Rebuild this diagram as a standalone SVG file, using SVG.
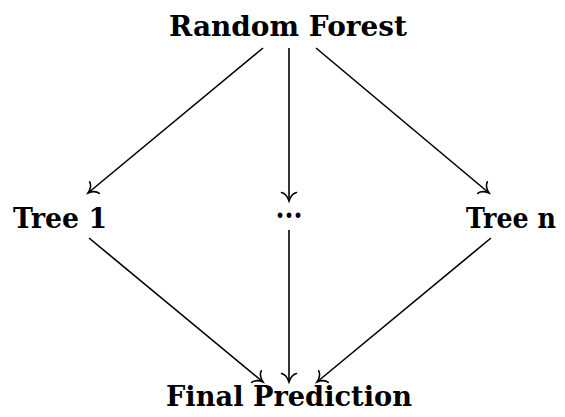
<svg xmlns="http://www.w3.org/2000/svg" width="565" height="417" viewBox="0 0 565 417">
<defs>
<style>
.lbl{font-family:"DejaVu Serif","Liberation Serif",serif;font-weight:bold;font-size:27px;fill:#000;text-anchor:middle}
.edge{stroke:#000;stroke-width:1.6;fill:none;marker-end:url(#to)}
</style>
<marker id="to" markerUnits="userSpaceOnUse" markerWidth="24" markerHeight="24" viewBox="-12 -12 24 24" refX="0" refY="0" orient="auto" overflow="visible">
<path d="M-8.5,-7.5 C-7.5,-3.5 -2.5,-0.8 0,0 C-2.5,0.8 -7.5,3.5 -8.5,7.5" fill="none" stroke="#000" stroke-width="1.6" stroke-linecap="round"/>
</marker>
</defs>
<g id="connectors">
<line class="edge" x1="263" y1="48" x2="88" y2="193"/>
<line class="edge" x1="289" y1="48" x2="289" y2="201"/>
<line class="edge" x1="316" y1="48" x2="489" y2="193"/>
<line class="edge" x1="89" y1="238" x2="263" y2="382"/>
<line class="edge" x1="289" y1="230" x2="289" y2="382"/>
<line class="edge" x1="491" y1="238" x2="317" y2="382"/>
</g>
<g id="random-forest"><text class="lbl" x="288" y="36" textLength="238" lengthAdjust="spacingAndGlyphs">Random Forest</text></g>
<g id="tree-1"><text class="lbl" x="60" y="228" textLength="94" lengthAdjust="spacingAndGlyphs">Tree 1</text></g>
<g id="dots"><text class="lbl" x="289" y="226" style="font-size:30px" textLength="27" lengthAdjust="spacingAndGlyphs">···</text></g>
<g id="tree-n"><text class="lbl" x="511" y="228" textLength="90" lengthAdjust="spacingAndGlyphs">Tree n</text></g>
<g id="final-prediction"><text class="lbl" x="289" y="406" textLength="246" lengthAdjust="spacingAndGlyphs">Final Prediction</text></g>
</svg>
